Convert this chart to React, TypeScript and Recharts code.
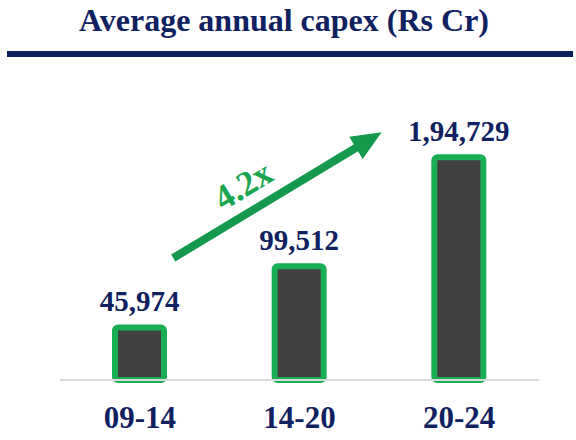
import { Bar, BarChart, LabelList, ReferenceLine, XAxis, YAxis } from "recharts";

const periods = ["09-14", "14-20", "20-24"];
const capex = [45974, 99512, 194729];
const growthLabel = "4.2x";
// arrow ends, in data units (x on a 0..2 helper axis spanning the plot, y in Rs Cr)
const arrowFrom = { x: 0.473, y: 106600 };
const arrowTo = { x: 1.343, y: 216500 };

const data = periods.map((p, i) => ({ period: p, capex: capex[i] }));

const NAVY = "#0f2161";
const GREEN = "#1aae53";
const SERIF = '"Liberation Serif", "Times New Roman", serif';

function inr(n: number) {
    const s = String(Math.round(n));
    if (s.length <= 3) return s;
    const rest = s.slice(0, -3).replace(/\B(?=(\d{2})+(?!\d))/g, ",");
    return rest + "," + s.slice(-3);
}

const Arrow = (props: any) => {
    const { x1, y1, x2, y2 } = props;
    const dx = x2 - x1;
    const dy = y2 - y1;
    const len = Math.sqrt(dx * dx + dy * dy);
    const ux = dx / len;
    const uy = dy / len;
    const nx = uy;
    const ny = -ux;
    const head = 30;
    const half = 13;
    const bx = x2 - ux * head;
    const by = y2 - uy * head;
    const angle = (Math.atan2(dy, dx) * 180) / Math.PI;
    const tx = x1 + ux * len * 0.4 + nx * 26;
    const ty = y1 + uy * len * 0.4 + ny * 26;
    return (
        <g>
            <line x1={x1} y1={y1} x2={bx + ux * 2} y2={by + uy * 2} stroke="#14994d" strokeWidth={8} />
            <polygon
                points={`${x2},${y2} ${bx + nx * half},${by + ny * half} ${bx - nx * half},${by - ny * half}`}
                fill="#14994d"
            />
            <text
                x={tx}
                y={ty}
                textAnchor="middle"
                dominantBaseline="central"
                transform={`rotate(${angle} ${tx} ${ty})`}
                fill="#1aa64f"
                fontFamily={SERIF}
                fontWeight="bold"
                fontSize={35}
            >
                {growthLabel}
            </text>
        </g>
    );
};

export default function App() {
    return (
        <div style={{ position: "absolute", left: 0, top: 0, width: 576, height: 440, background: "#fff" }}>
            <div
                style={{
                    position: "absolute",
                    left: 0,
                    top: 4,
                    width: 568,
                    textAlign: "center",
                    fontFamily: SERIF,
                    fontWeight: "bold",
                    fontSize: 32,
                    lineHeight: "32px",
                    color: NAVY,
                }}
            >
                Average annual capex (Rs Cr)
            </div>
            <div style={{ position: "absolute", left: 7, top: 51, width: 566, height: 6, background: "#0b1f5c" }} />
            <BarChart
                width={576}
                height={440}
                data={data}
                margin={{ top: 94, right: 37, left: 60, bottom: 10 }}
            >
                <XAxis
                    dataKey="period"
                    height={50}
                    tickLine={false}
                    tickSize={0}
                    tickMargin={26}
                    axisLine={{ stroke: "#d9d9d9", strokeWidth: 2 }}
                    tick={{ fill: NAVY, fontSize: 31, fontWeight: "bold", fontFamily: SERIF }}
                />
                <XAxis xAxisId="n" type="number" domain={[0, 2]} allowDataOverflow hide />
                <YAxis domain={[0, 250000]} hide />
                <Bar
                    dataKey="capex"
                    fill="#404040"
                    stroke={GREEN}
                    strokeWidth={6}
                    radius={3}
                    barSize={49}
                    isAnimationActive={false}
                >
                    <LabelList
                        dataKey="capex"
                        position="top"
                        offset={16}
                        formatter={(v: any) => inr(Number(v))}
                        style={{ fill: NAVY, fontSize: 29, fontWeight: "bold", fontFamily: SERIF }}
                    />
                </Bar>
                <ReferenceLine
                    xAxisId="n"
                    segment={[arrowFrom, arrowTo]}
                    ifOverflow="visible"
                    shape={Arrow}
                />
            </BarChart>
        </div>
    );
}
